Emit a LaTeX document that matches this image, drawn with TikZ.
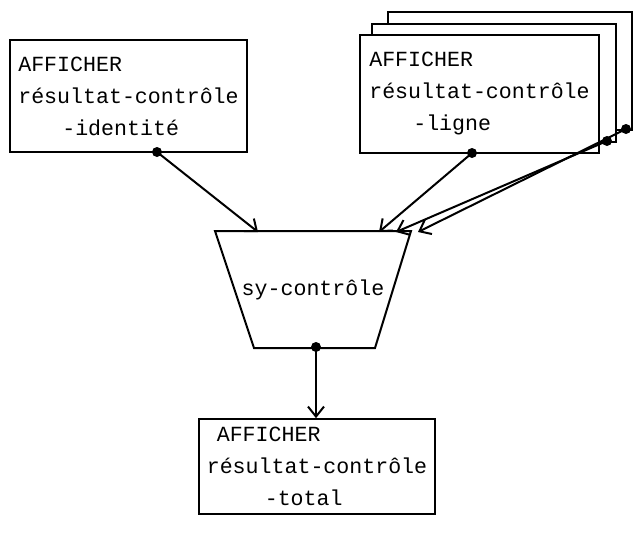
\documentclass[tikz,border=0pt]{standalone}
\usepackage{fontspec}
\setmonofont{Liberation Mono}
\usetikzlibrary{shapes.geometric, arrows.meta, positioning, calc}

\begin{document}
\begin{tikzpicture}[
  x=0.5pt, y=-0.5pt, >={Straight Barb[length=5pt,width=8pt]},
  line width=1pt,
  every node/.style={font=\ttfamily\fontsize{10.8}{16}\selectfont},
]

\tikzset{
  afficher/.style={rectangle, draw, fill=white, align=left, inner sep=4pt,
    minimum width=118.5pt, minimum height=56pt},
  pile/.style={rectangle, draw, fill=white, minimum width=122pt, minimum height=59pt},
  sync/.style={rectangle, minimum width=97pt, minimum height=57.5pt, inner sep=2pt,
    append after command={
      \pgfextra{
        \draw (\tikzlastnode.north west) -- (\tikzlastnode.north east)
          -- ($(\tikzlastnode.south east)+(-36,0)$)
          -- ($(\tikzlastnode.south west)+(39,0)$) -- cycle;
      }}},
  flowline/.style={->},
  dot/.style={circle, fill, inner sep=0pt, minimum size=5pt},
}

\useasboundingbox (0,0) rectangle (634,537);

% ---- top left ----
\node[afficher] (identite) at (128.5,96)
  {AFFICHER\\résultat-contrôle\\\hspace*{22pt}-identité};

% ---- top right, stack of three ----
\node[pile] (lignec) at (510,71) {};
\node[pile] (ligneb) at (494,83) {};
\node[afficher, minimum width=119.5pt, minimum height=59pt] (ligne) at (479.5,94)
  {AFFICHER\\résultat-contrôle\\\hspace*{22pt}-ligne};

% ---- middle ----
\node[sync] (sy) at (313,289.5) {\raisebox{-4pt}{sy-contrôle}};

% ---- bottom ----
\node[afficher, minimum width=95pt, minimum height=46.5pt] (total) at (317,466.5)
  {\hspace*{5pt}AFFICHER\\résultat-contrôle\\\hspace*{29pt}-total};

% dots
\coordinate (d1) at (157,152);
\coordinate (d2) at (472,153);
\coordinate (d3) at (607,141);
\coordinate (d4) at (626,129);
\coordinate (d5) at (316,347);
\foreach \d in {d1,d2,d3,d4,d5}
  \node[dot] at (\d) {};

\draw[flowline] (d1) -- (258,232);
\draw[flowline] (d2) -- (379,232);
\draw[flowline] (d3) -- (396,232);
\draw[flowline] (d4) -- (418,232);
\draw[flowline] (d5) -- (total.north -| d5);

\end{tikzpicture}
\end{document}
